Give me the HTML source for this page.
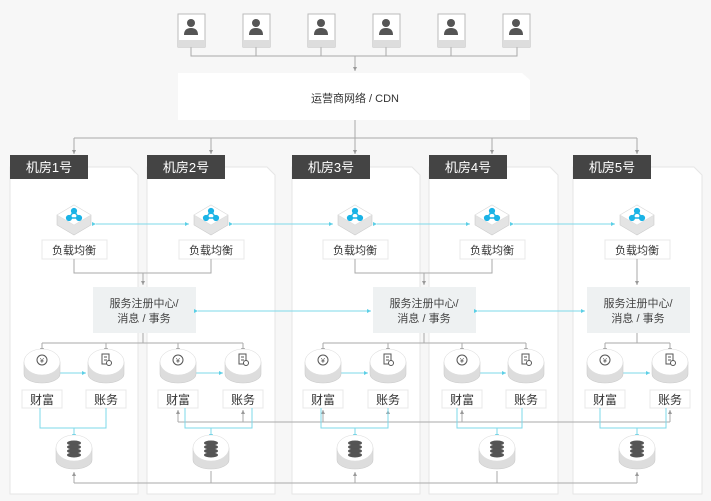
<!DOCTYPE html><html><head><meta charset="utf-8"><style>
body{margin:0;background:#f7f7f7;}
svg{display:block;font-family:"Liberation Sans","Noto Sans CJK SC",sans-serif;}
</style></head><body>
<svg width="711" height="501" viewBox="0 0 711 501" xmlns="http://www.w3.org/2000/svg">
<defs>
<marker id="ag" markerWidth="5" markerHeight="5" refX="4" refY="2.5" orient="auto"><path d="M0,0.5 L4,2.5 L0,4.5z" fill="#999"/></marker>
<marker id="ac" markerWidth="5" markerHeight="5" refX="4" refY="2.5" orient="auto"><path d="M0,0.5 L4,2.5 L0,4.5z" fill="#5ccfe6"/></marker>
<g id="user"><rect x="-13" y="0" width="27" height="33" fill="#fff" stroke="#bbb"/><rect x="-13" y="26" width="27" height="7" fill="#ddd"/><circle cx="0" cy="9" r="4" fill="#555"/><path d="M-7,21 Q-7,14 0,14 Q7,14 7,21z" fill="#555"/></g>
<g id="lb"><path d="M0,-13 L17,-3 L17,7 L0,17 L-17,7 L-17,-3z" fill="#e4e4e4" stroke="#ccc" stroke-width=".6"/><path d="M0,-13 L17,-3 L0,7 L-17,-3z" fill="#fff" stroke="#ddd" stroke-width=".6"/><g fill="#1ab3e6" stroke="#1ab3e6"><line x1="0" y1="-7" x2="-5" y2="0" stroke-width="1.5"/><line x1="0" y1="-7" x2="5" y2="0" stroke-width="1.5"/><line x1="-5" y1="0" x2="5" y2="0" stroke-width="1.5"/><circle cx="0" cy="-7" r="2.6"/><circle cx="-5" cy="0" r="2.6"/><circle cx="5" cy="0" r="2.6"/></g></g>
<g id="cyl"><path d="M-18,-4 L-18,8 A18,9 0 0 0 18,8 L18,-4z" fill="#ddd" stroke="#ccc" stroke-width=".6"/><ellipse cx="0" cy="-4" rx="18" ry="13" fill="#fff" stroke="#ddd" stroke-width=".6"/></g>
<g id="yen"><use href="#cyl"/><circle cx="0" cy="-6" r="5" fill="none" stroke="#555"/><text x="0" y="-3" font-size="7" text-anchor="middle" fill="#555">¥</text></g>
<g id="doc"><use href="#cyl"/><rect x="-4" y="-12" width="7" height="10" fill="none" stroke="#555"/><path d="M-2,-9H1M-2,-6H1" stroke="#555"/><circle cx="3" cy="-3" r="2.5" fill="#fff" stroke="#555"/></g>
<g id="db"><use href="#cyl"/><g fill="#555"><ellipse cx="0" cy="-9" rx="7" ry="2.5"/><ellipse cx="0" cy="-5" rx="7" ry="2.5"/><ellipse cx="0" cy="-1" rx="7" ry="2.5"/><ellipse cx="0" cy="3" rx="7" ry="2.5"/></g></g>
</defs>

<g stroke="#aaa" fill="none"><path d="M191,47V56H517V47M256,47V56M321,47V56M386,47V56M451,47V56"/><path d="M355,56V71" marker-end="url(#ag)"/></g>
<use href="#user" x="191" y="14"/><use href="#user" x="256" y="14"/><use href="#user" x="321" y="14"/><use href="#user" x="386" y="14"/><use href="#user" x="451" y="14"/><use href="#user" x="516" y="14"/>
<path d="M178,73H522L530,80V120H178z" fill="#fff"/>
<text x="355" y="102" font-size="11" text-anchor="middle" fill="#333">运营商网络 / CDN</text>
<g stroke="#aaa" fill="none"><path d="M355,120V138M74,138H637"/><path d="M74,138V154" marker-end="url(#ag)"/><path d="M211,138V154" marker-end="url(#ag)"/><path d="M355,138V154" marker-end="url(#ag)"/><path d="M492,138V154" marker-end="url(#ag)"/><path d="M637,138V154" marker-end="url(#ag)"/></g>

<g fill="#fff" stroke="#e6e6e6">
<path d="M10,167H130L138,175V494H10z"/><path d="M147,167H267L275,175V494H147z"/><path d="M292,167H412L420,175V494H292z"/><path d="M429,167H550L558,175V494H429z"/><path d="M573,167H694L702,175V494H573z"/>
</g>
<g fill="#444"><rect x="10" y="155" width="78" height="24"/><rect x="147" y="155" width="78" height="24"/><rect x="292" y="155" width="78" height="24"/><rect x="429" y="155" width="78" height="24"/><rect x="573" y="155" width="78" height="24"/></g>
<g fill="#fff" font-size="13" text-anchor="middle"><text x="49" y="172">机房1号</text><text x="186" y="172">机房2号</text><text x="331" y="172">机房3号</text><text x="468" y="172">机房4号</text><text x="612" y="172">机房5号</text></g>

<g stroke="#7dd8ea" fill="none"><path d="M96,224H189" marker-end="url(#ac)" marker-start="url(#ac)"/><path d="M233,224H333" marker-end="url(#ac)" marker-start="url(#ac)"/><path d="M377,224H470" marker-end="url(#ac)" marker-start="url(#ac)"/><path d="M514,224H615" marker-end="url(#ac)" marker-start="url(#ac)"/></g>
<use href="#lb" x="74" y="218"/><use href="#lb" x="211" y="218"/><use href="#lb" x="355" y="218"/><use href="#lb" x="492" y="218"/><use href="#lb" x="637" y="218"/>
<g fill="#fff" stroke="#e8e8e8"><rect x="42" y="240" width="65" height="19"/><rect x="179" y="240" width="65" height="19"/><rect x="323" y="240" width="65" height="19"/><rect x="460" y="240" width="65" height="19"/><rect x="605" y="240" width="65" height="19"/></g>
<g font-size="11" fill="#333" text-anchor="middle"><text x="74" y="254">负载均衡</text><text x="211" y="254">负载均衡</text><text x="355" y="254">负载均衡</text><text x="492" y="254">负载均衡</text><text x="637" y="254">负载均衡</text></g>

<g stroke="#aaa" fill="none"><path d="M74,259V273H211V259M355,259V273H492V259"/><path d="M143,273V285" marker-end="url(#ag)"/><path d="M424,273V285" marker-end="url(#ag)"/><path d="M637,259V285" marker-end="url(#ag)"/></g>
<g fill="#eef1f2"><rect x="93" y="287" width="103" height="46"/><rect x="373" y="287" width="103" height="46"/><rect x="587" y="287" width="103" height="46"/></g>
<g font-size="11" fill="#444" text-anchor="middle"><text x="144" y="307">服务注册中心/</text><text x="144" y="322">消息 / 事务</text><text x="424" y="307">服务注册中心/</text><text x="424" y="322">消息 / 事务</text><text x="638" y="307">服务注册中心/</text><text x="638" y="322">消息 / 事务</text></g>
<g stroke="#7dd8ea" fill="none"><path d="M198,311H371" marker-end="url(#ac)" marker-start="url(#ac)"/><path d="M478,311H585" marker-end="url(#ac)" marker-start="url(#ac)"/></g>

<g stroke="#aaa" fill="none">
<path d="M143,333V343M42,343H243M424,333V343M323,343H526M637,333V343M605,343H670"/>
<path d="M42,343V352" marker-end="url(#ag)"/><path d="M106,343V352" marker-end="url(#ag)"/><path d="M178,343V352" marker-end="url(#ag)"/><path d="M243,343V352" marker-end="url(#ag)"/><path d="M323,343V352" marker-end="url(#ag)"/><path d="M388,343V352" marker-end="url(#ag)"/><path d="M462,343V352" marker-end="url(#ag)"/><path d="M526,343V352" marker-end="url(#ag)"/><path d="M605,343V352" marker-end="url(#ag)"/><path d="M670,343V352" marker-end="url(#ag)"/>
</g>
<g stroke="#7dd8ea" fill="none"><path d="M60,373H86" marker-end="url(#ac)"/><path d="M196,373H223" marker-end="url(#ac)"/><path d="M341,373H368" marker-end="url(#ac)"/><path d="M480,373H506" marker-end="url(#ac)"/><path d="M623,373H650" marker-end="url(#ac)"/></g>
<use href="#yen" x="42" y="366"/><use href="#doc" x="106" y="366"/><use href="#yen" x="178" y="366"/><use href="#doc" x="243" y="366"/><use href="#yen" x="323" y="366"/><use href="#doc" x="388" y="366"/><use href="#yen" x="462" y="366"/><use href="#doc" x="526" y="366"/><use href="#yen" x="605" y="366"/><use href="#doc" x="670" y="366"/>
<g fill="#fff" stroke="#e8e8e8"><rect x="22" y="390" width="40" height="18"/><rect x="86" y="390" width="40" height="18"/><rect x="158" y="390" width="40" height="18"/><rect x="223" y="390" width="40" height="18"/><rect x="303" y="390" width="40" height="18"/><rect x="368" y="390" width="40" height="18"/><rect x="442" y="390" width="40" height="18"/><rect x="506" y="390" width="40" height="18"/><rect x="585" y="390" width="40" height="18"/><rect x="650" y="390" width="40" height="18"/></g>
<g font-size="12" fill="#333" text-anchor="middle"><text x="42" y="404">财富</text><text x="106" y="404">账务</text><text x="178" y="404">财富</text><text x="243" y="404">账务</text><text x="323" y="404">财富</text><text x="388" y="404">账务</text><text x="462" y="404">财富</text><text x="526" y="404">账务</text><text x="605" y="404">财富</text><text x="670" y="404">账务</text></g>

<g stroke="#aaa" fill="none"><path d="M178,422H670"/><path d="M178,422V410" marker-end="url(#ag)"/><path d="M243,422V410" marker-end="url(#ag)"/><path d="M462,422V410" marker-end="url(#ag)"/><path d="M670,422V410" marker-end="url(#ag)"/><path d="M323,422V410" marker-end="url(#ag)"/><path d="M388,422V410" marker-end="url(#ag)"/></g>
<g stroke="#7dd8ea" fill="none"><path d="M40,408V428H106V408M185,408V428H252V408M321,408V428H388V408M457,408V428H522V408M600,408V428H666V408"/><path d="M74,428V438" marker-end="url(#ac)"/><path d="M211,428V438" marker-end="url(#ac)"/><path d="M355,428V438" marker-end="url(#ac)"/><path d="M497,428V438" marker-end="url(#ac)"/><path d="M637,428V438" marker-end="url(#ac)"/></g>
<use href="#db" x="74" y="452"/><use href="#db" x="211" y="452"/><use href="#db" x="355" y="452"/><use href="#db" x="497" y="452"/><use href="#db" x="637" y="452"/>
<g stroke="#aaa" fill="none"><path d="M74,483H637M211,483V471M497,483V471"/><path d="M74,483V472" marker-end="url(#ag)"/><path d="M355,483V472" marker-end="url(#ag)"/><path d="M637,483V472" marker-end="url(#ag)"/></g>
</svg>
</body></html>
